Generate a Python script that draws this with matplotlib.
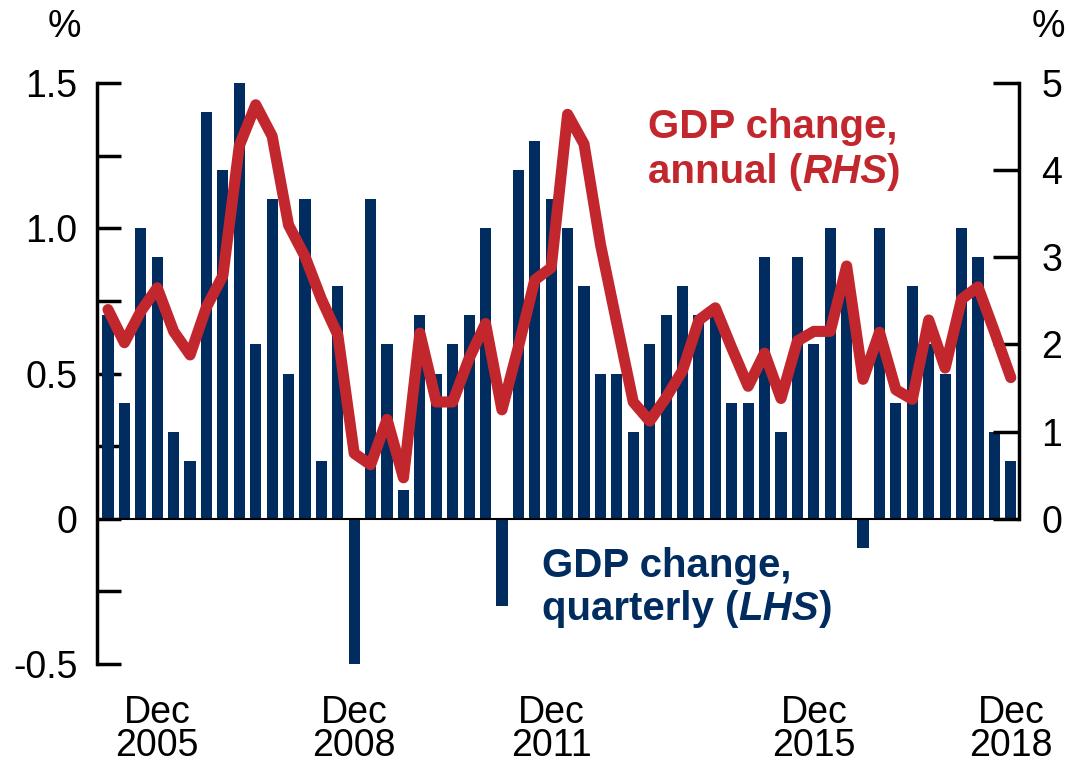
import numpy as np
import pandas as pd
import matplotlib
matplotlib.use("Agg")
import matplotlib.pyplot as plt

plt.rcParams['font.family'] = ['Liberation Sans', 'DejaVu Sans']

# quarters Mar 2005 .. Dec 2018
quarters = pd.period_range('2005Q1', '2018Q4', freq='Q')

# quarterly GDP change, % (LHS)
quarterly = [0.7, 0.4, 1.0, 0.9, 0.3, 0.2, 1.4, 1.2, 1.5, 0.6, 1.1, 0.5, 1.1, 0.2,
             0.8, -0.5, 1.1, 0.6, 0.1, 0.7, 0.5, 0.6, 0.7, 1.0, -0.3, 1.2, 1.3, 1.1,
             1.0, 0.8, 0.5, 0.5, 0.3, 0.6, 0.7, 0.8, 0.7, 0.7, 0.4, 0.4, 0.9, 0.3,
             0.9, 0.6, 1.0, 0.8, -0.1, 1.0, 0.4, 0.8, 0.6, 0.5, 1.0, 0.9, 0.3, 0.2]

# annual GDP change, % (RHS)
annual = [2.40, 2.02, 2.38, 2.65, 2.15, 1.88, 2.43, 2.79, 4.28, 4.75, 4.39, 3.37, 3.01, 2.52,
          2.11, 0.75, 0.62, 1.14, 0.47, 2.13, 1.34, 1.34, 1.84, 2.24, 1.25, 1.97, 2.74, 2.88,
          4.64, 4.30, 3.15, 2.24, 1.34, 1.12, 1.39, 1.70, 2.28, 2.42, 1.96, 1.52, 1.90, 1.38,
          2.04, 2.15, 2.15, 2.90, 1.60, 2.14, 1.48, 1.37, 2.28, 1.73, 2.52, 2.66, 2.15, 1.62]

tick_years = [2005, 2008, 2011, 2015, 2018]
tick_labels = ['Dec\n2005', 'Dec\n2008', 'Dec\n2011', 'Dec\n2015', 'Dec\n2018']

navy = '#002c5f'
red = '#c1272d'

W, H = 1069, 770
x = np.arange(len(quarters))
qlist = list(quarters)
tick_pos = [qlist.index(pd.Period(f'{y}Q4', freq='Q')) for y in tick_years]

fig = plt.figure(figsize=(W / 100, H / 100), dpi=100)
ax = fig.add_axes([97 / W, 1 - 664 / H, (1019 - 97) / W, (664 - 83) / H])
ax2 = ax.twinx()

ax.bar(x, quarterly, width=0.68, color=navy, zorder=2)
ax.axhline(0, color='black', lw=1.5, zorder=3)
ax2.plot(x, annual, color=red, lw=8, solid_capstyle='round', solid_joinstyle='round')

ax.set_xlim(-0.67, 55.5)
ax.set_ylim(-0.5, 1.5)
ax2.set_ylim(-5 / 3, 5)

for s in ['top', 'bottom', 'right']:
    ax.spines[s].set_visible(False)
for s in ['top', 'bottom', 'left']:
    ax2.spines[s].set_visible(False)
ax.spines['left'].set_linewidth(2.5)
ax.spines['left'].set_bounds(-0.5, 1.5)
ax2.spines['right'].set_linewidth(2.5)
ax2.spines['right'].set_bounds(0, 5)

ax.set_yticks([-0.5, 0, 0.5, 1.0, 1.5], ['-0.5', '0', '0.5', '1.0', '1.5'])
ax.set_yticks([-0.25, 0.25, 0.75, 1.25], minor=True)
ax.tick_params(axis='y', which='both', direction='in', length=17, width=2.5,
               pad=14, labelsize=27)
ax2.set_yticks(range(6), [str(i) for i in range(6)])
ax2.tick_params(axis='y', direction='in', length=19, width=2.5, pad=16, labelsize=27)

ax.set_xticks(tick_pos, tick_labels)
ax.tick_params(axis='x', length=0, pad=22, labelsize=27)
for lab in ax.get_xticklabels():
    lab.set_linespacing(0.92)

fig.text(64 / W, 1 - 27 / H, '%', ha='center', va='center', fontsize=27)
fig.text(1048 / W, 1 - 27 / H, '%', ha='center', va='center', fontsize=27)

renderer = fig.canvas.get_renderer()


def rich_line(xp, yp, parts, color):
    for s, style in parts:
        t = fig.text(xp / W, 1 - yp / H, s, fontsize=29, fontweight='bold', style=style,
                     color=color, ha='left', va='baseline')
        xp += t.get_window_extent(renderer).width


rich_line(648, 138, [('GDP change,', 'normal')], red)
rich_line(648, 183, [('annual (', 'normal'), ('RHS', 'italic'), (')', 'normal')], red)
rich_line(542, 577, [('GDP change,', 'normal')], navy)
rich_line(542, 620, [('quarterly (', 'normal'), ('LHS', 'italic'), (')', 'normal')], navy)

fig.savefig('out.png', dpi=100)
